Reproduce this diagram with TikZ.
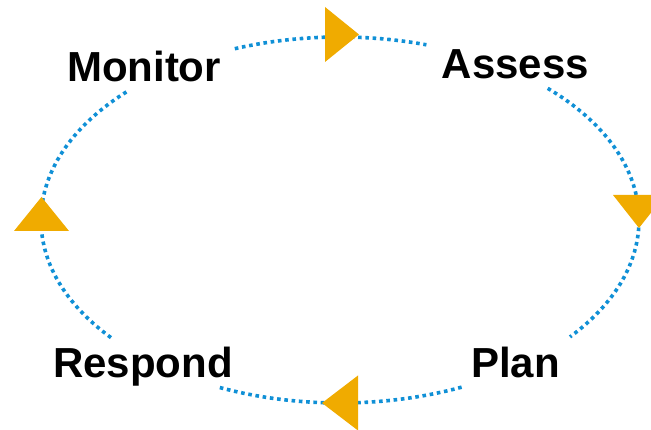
\documentclass[tikz,border=0pt]{standalone}
\usepackage{fontspec}
\setmainfont{Liberation Sans}
\definecolor{cycblue}{RGB}{16,144,214}
\definecolor{cycorange}{RGB}{240,171,0}
\begin{document}
\begin{tikzpicture}[x=1pt,y=1pt,
  flow/.style={draw=cycblue, line width=3.6pt, line cap=butt, dash pattern=on 3.6pt off 3.7pt},
  tip/.style={fill=cycorange, draw=none},
  lbl/.style={font=\fontsize{42}{50}\selectfont\bfseries, inner sep=0pt, anchor=base, text=black}]
\useasboundingbox (0,0) rectangle (651,430);
\clip (0,0) rectangle (651,430);
\coordinate (c) at (340,210);
% labels
\node[lbl] (monitor) at (144,348) {Monitor};
\node[lbl] (assess) at (515.5,351) {Assess};
\node[lbl] (plan) at (515.5,52) {Plan};
\node[lbl] (respond) at (143,52) {Respond};
% arcs (clockwise)
\coordinate (m1) at ([shift={(c)}]110.6:299pt and 183pt);
\coordinate (a1) at ([shift={(c)}]46:299pt and 183pt);
\coordinate (p1) at ([shift={(c)}]-66:299pt and 183pt);
\coordinate (r1) at ([shift={(c)}]-140:299pt and 183pt);
\draw[flow] (m1) arc[start angle=110.6, end angle=73.2, x radius=299pt, y radius=183pt];
\draw[flow] (a1) arc[start angle=46, end angle=-39.7, x radius=299pt, y radius=183pt];
\draw[flow] (p1) arc[start angle=-66, end angle=-114, x radius=299pt, y radius=183pt];
\draw[flow] (r1) arc[start angle=-140, end angle=-225, x radius=299pt, y radius=183pt];
% arrow triangles
\path[tip] (325,423) -- (325,368) -- (359,395.5) -- cycle;
\path[tip] (613,235) -- (665,235) -- (639,202) -- cycle;
\path[tip] (358,54.5) -- (358,-0.5) -- (322,27) -- cycle;
\path[tip] (14,199) -- (69,199) -- (41.5,233) -- cycle;
\end{tikzpicture}
\end{document}
